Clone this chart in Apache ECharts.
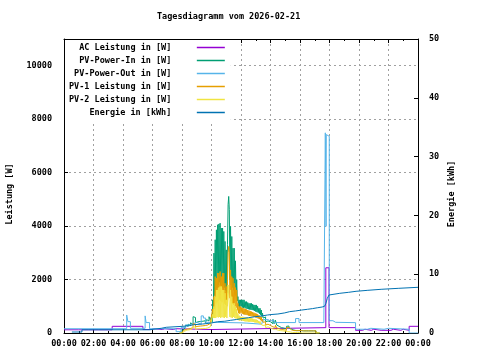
<!DOCTYPE html>
<html><head><meta charset="utf-8">
<script src="https://cdn.jsdelivr.net/npm/echarts@6/dist/echarts.min.js"></script>
<style>html,body{margin:0;padding:0;background:#fff}#c{width:480px;height:360px}</style>
</head><body><div id="c"></div>
<script>
const titleText = 'Tagesdiagramm vom 2026-02-21';
const leftAxisName = 'Leistung [W]';
const rightAxisName = 'Energie [kWh]';
const seriesNames = ['AC Leistung in [W]','PV-Power-In in [W]','PV-Power-Out in [W]','PV-1 Leistung in [W]','PV-2 Leistung in [W]','Energie in [kWh]'];
const seriesColors = ['#9400d3','#009e73','#56b4e9','#e69f00','#f0e442','#0072b2'];
const xTickLabels = ['00:00','02:00','04:00','06:00','08:00','10:00','12:00','14:00','16:00','18:00','20:00','22:00','00:00'];
const leftTickLabels = ['0','2000','4000','6000','8000','10000'];
const rightTickLabels = ['0','10','20','30','40','50'];

// AC Leistung
const acTimes = ["00:00","00:20","00:28","01:00","01:08","01:40","01:48","02:20","02:28","03:00","03:08","03:16",
  "05:21","05:55","06:05","06:40","06:50","07:25","07:35","10:00","17:45","17:58",
  "19:46","20:15","20:24","20:50","21:00","21:30","21:38","22:10","22:20","22:50","23:00","23:24","24:00"];
const acValues = [120,160,120,160,120,160,120,160,120,160,120,250,
  130,160,130,160,130,160,130,200,2440,200,
  100,140,100,140,100,140,100,140,100,140,100,250,250];

// PV-Power-Out
const outTimes = ["00:00","04:15","04:20","04:30","05:30","05:34","05:48","07:36","07:56","08:15","08:30","08:45",
  "09:00","09:18","09:27","09:36","10:00","12:00","12:24","13:24","13:30","13:50","14:00","14:07","14:14",
  "15:42","15:56","17:37","17:43","17:46","17:47","17:53","17:59","18:14","18:25","19:46","20:34","20:48",
  "21:42","22:00","23:24","24:00"];
const outValues = [160,675,425,175,640,390,160,50,200,300,350,400,
  330,640,560,400,380,370,330,400,500,450,390,480,390,
  540,390,460,7490,3990,7425,7360,460,400,387,140,175,140,
  175,140,0,0];

// PV-Power-In, PV-1, PV-2 readings
const dayTimes = ["07:50","07:55",
  "08:00","08:05","08:10","08:15","08:20","08:25","08:30","08:35","08:40","08:45","08:50","08:55",
  "09:00","09:05","09:10","09:15","09:20","09:25","09:30","09:35","09:40","09:45","09:50","09:55",
  "10:00","10:02.5","10:05","10:07.5","10:10","10:12.5","10:15","10:17.5","10:20","10:22.5","10:25","10:27.5",
  "10:30","10:32.5","10:35","10:37.5","10:40","10:42.5","10:45","10:47.5","10:50","10:52.5","10:55","10:57.5",
  "11:00","11:02.5","11:05","11:07.5","11:10","11:12.5","11:15","11:17.5","11:20","11:22.5","11:25","11:27.5",
  "11:30","11:32.5","11:35","11:37.5","11:40","11:42.5","11:45","11:47.5","11:50","11:52.5","11:55","11:57.5",
  "12:00","12:02.5","12:05","12:07.5","12:10","12:12.5","12:15","12:17.5","12:20","12:22.5","12:25","12:27.5",
  "12:30","12:32.5","12:35","12:37.5","12:40","12:42.5","12:45","12:47.5","12:50","12:52.5","12:55","12:57.5",
  "13:00","13:02.5","13:05","13:07.5","13:10","13:12.5","13:15","13:17.5","13:20","13:22.5","13:25","13:27.5","13:30",
  "13:35","13:40","13:45","13:50","13:55",
  "14:00","14:05","14:10","14:15","14:20","14:25","14:30","14:35","14:40","14:45","14:50","14:55",
  "15:00","15:05","15:10","15:15","15:20","15:25","15:30","15:35","15:40","15:45","15:50","15:55",
  "16:00","16:05","16:10","16:15","16:20","16:25","16:30","16:35","16:40","16:45","16:50","16:55",
  "17:00","17:05","17:10","17:15","17:20"];
const pvInValues = [0,0,
  100,150,220,300,250,330,280,380,320,610,580,380,
  420,350,430,380,440,400,460,380,500,450,610,500,
  620,400,1240,800,2990,1400,3490,1600,3860,1700,4050,1800,
  4080,1900,4110,1800,3925,1700,3925,1800,3800,1700,3425,1600,
  3110,1500,3300,4800,5110,4610,2000,3990,1800,3610,1700,3175,
  1600,3175,1500,2700,1400,2000,1200,1360,1000,1240,950,1240,
  1000,1240,950,1240,940,1240,950,1175,920,1175,900,1140,
  890,1110,880,1110,870,1110,860,1080,850,1050,830,1050,
  800,1050,780,1000,760,925,720,925,680,860,620,740,560,
  600,420,450,380,420,
  380,350,510,350,480,300,250,240,200,240,180,220,
  150,250,260,180,150,120,110,100,90,80,90,80,
  90,80,80,80,80,80,80,80,80,80,80,80,
  80,0,0,0,0];
const pv1Values = [0,0,
  60,90,130,180,150,200,170,220,200,350,330,230,
  250,210,260,230,270,240,280,230,300,270,360,300,
  380,300,900,600,1360,900,2110,1100,2050,1150,2240,1200,
  2240,1250,2300,1200,2110,1150,2240,1200,2240,1100,1860,1050,
  1740,1000,2000,3000,3240,2990,1300,2360,1200,2110,1100,2050,
  1050,1860,1000,1700,950,1610,850,1110,750,990,720,990,
  760,950,720,940,700,920,690,900,680,880,670,860,
  650,840,640,820,630,800,620,780,610,760,600,740,
  580,720,560,700,540,660,520,620,480,600,440,520,400,
  420,300,330,260,280,
  240,230,300,210,290,190,160,150,130,160,120,150,
  100,200,210,140,120,100,90,80,90,80,90,80,
  90,80,80,80,80,80,80,80,80,80,80,80,
  80,0,0,0,0];
const pv2Values = [0,0,
  40,60,80,110,90,120,100,150,110,230,220,140,
  160,130,160,140,170,150,170,140,190,170,230,190,
  230,200,700,560,990,560,1360,560,1610,600,1610,580,
  1700,600,1740,560,1740,600,1610,580,1610,560,1490,600,
  1240,560,1300,1800,1860,1860,600,1610,580,1360,560,1110,
  600,1110,560,1000,540,900,500,740,480,650,460,610,
  480,600,460,610,450,600,440,590,430,580,430,570,
  420,560,420,560,420,550,410,540,410,520,400,510,
  390,500,380,480,370,450,350,430,330,400,300,360,280,
  300,200,230,170,190,
  160,150,200,140,180,110,90,90,70,80,60,70,
  50,50,50,40,30,20,20,20,20,20,20,10,
  10,0,0,0,0,0,0,0,0,0,0,0,
  0,0,0,0,0];

// Energie (kWh)
const energyTimes = ["00:32","01:13","05:48","06:36","06:56","08:04","08:30","08:46","09:24","10:00","10:24","10:54",
  "11:18","11:42","12:04","12:30","12:54","13:24","13:48","14:06","14:30","14:58","15:18","15:42","16:06",
  "16:30","16:51","17:12","17:30","17:40","17:45","17:51","17:58","18:06","18:42","19:18","19:48","20:36",
  "21:30","22:42","24:00"];
const energyValues = [0.17,0.55,0.80,0.97,1.14,1.25,1.40,1.53,1.70,1.92,2.00,2.16,
  2.30,2.45,2.60,2.75,2.90,3.06,3.15,3.23,3.42,3.63,3.75,3.90,4.03,
  4.15,4.30,4.42,4.55,4.70,5.00,5.90,6.46,6.75,6.92,7.09,7.26,7.43,
  7.60,7.77,7.77];

const FONT = 'DejaVu Sans Mono';
function toH(s){ const p = s.split(':'); return Number(p[0]) + Number(p[1]) / 60; }
function pairs(times, values){ return times.map((t, i) => [toH(t), values[i]]); }

const seriesData = [
  pairs(acTimes, acValues),
  pairs(dayTimes, pvInValues),
  pairs(outTimes, outValues),
  pairs(dayTimes, pv1Values),
  pairs(dayTimes, pv2Values),
  pairs(energyTimes, energyValues)
];

const chart = echarts.init(document.getElementById('c'), null, {renderer: 'canvas', width: 480, height: 360});
const axisText = {fontFamily: FONT, fontSize: 8.5, fontWeight: 'bold', color: '#000'};
const gridDash = {show: true, showMinLine: false, showMaxLine: false, lineStyle: {color: '#a0a0a0', type: [2, 3], width: 1}};

chart.setOption({
  animation: false,
  backgroundColor: '#fff',
  title: {text: titleText, left: 157, top: 12, padding: 0,
    textStyle: {fontFamily: FONT, fontSize: 8.5, fontWeight: 'bold', color: '#000'}},
  grid: {left: 64, right: 62, top: 39, bottom: 27, show: false},
  legend: {
    orient: 'vertical', left: 65, top: 40, padding: [1, 6, 2, 4],
    backgroundColor: '#fff', align: 'right', itemGap: 0,
    itemWidth: 28, itemHeight: 1.5, icon: 'rect', selectedMode: false,
    textStyle: {fontFamily: FONT, fontSize: 8.5, fontWeight: 'bold', color: '#000', lineHeight: 13},
    formatter: n => n.padStart(20, ' ') + '    ',
    data: seriesNames
  },
  xAxis: [{
    type: 'value', min: 0, max: 24, interval: 2, position: 'bottom',
    axisLine: {show: true, lineStyle: {color: '#000', width: 1}},
    axisTick: {show: true, inside: true, length: 4, lineStyle: {color: '#000'}},
    minorTick: {show: true, splitNumber: 2, length: 2, lineStyle: {color: '#000'}},
    axisLabel: {...axisText, margin: 6, formatter: v => xTickLabels[Math.round(v / 2)]},
    splitLine: gridDash
  }, {
    type: 'value', min: 0, max: 24, interval: 2, position: 'top',
    axisLine: {show: true, onZero: false, lineStyle: {color: '#000', width: 1}},
    axisTick: {show: true, inside: true, length: 4, lineStyle: {color: '#000'}},
    minorTick: {show: true, splitNumber: 2, length: 2, lineStyle: {color: '#000'}},
    axisLabel: {show: false}, splitLine: {show: false}
  }],
  yAxis: [{
    type: 'value', min: 0, max: 11000, interval: 2000, position: 'left',
    axisLine: {show: true, onZero: false, lineStyle: {color: '#000', width: 1}},
    axisTick: {show: true, inside: true, length: 4, lineStyle: {color: '#000'}},
    axisLabel: {...axisText, margin: 12, padding: [0, 0, 5, 0],
      formatter: v => leftTickLabels[Math.round(v / 2000)] || ''},
    splitLine: gridDash
  }, {
    type: 'value', min: 0, max: 50, interval: 10, position: 'right',
    axisLine: {show: true, onZero: false, lineStyle: {color: '#000', width: 1}},
    axisTick: {show: true, inside: true, length: 4, lineStyle: {color: '#000'}},
    axisLabel: {...axisText, margin: 11, padding: [0, 0, 5, 0],
      formatter: v => rightTickLabels[Math.round(v / 10)] || ''},
    splitLine: {show: false}
  }],
  graphic: [
    {type: 'text', x: 9.5, y: 194, rotation: Math.PI / 2,
      style: {text: leftAxisName, fill: '#000', font: 'bold 8.5px "' + FONT + '"', align: 'center', verticalAlign: 'middle'}},
    {type: 'text', x: 452, y: 194, rotation: Math.PI / 2,
      style: {text: rightAxisName, fill: '#000', font: 'bold 8.5px "' + FONT + '"', align: 'center', verticalAlign: 'middle'}}
  ],
  series: seriesNames.map((name, i) => ({
    name: name, type: 'line', step: 'end', showSymbol: false, symbol: 'none',
    xAxisIndex: 0, yAxisIndex: i === 5 ? 1 : 0,
    color: seriesColors[i],
    lineStyle: {color: seriesColors[i], width: 1},
    data: seriesData[i]
  }))
});
</script></body></html>
